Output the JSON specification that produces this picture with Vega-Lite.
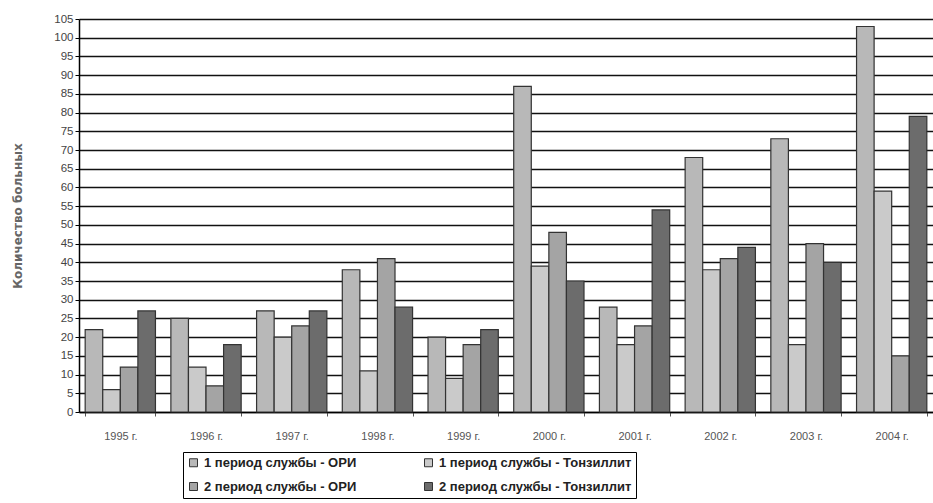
{
  "$schema": "https://vega.github.io/schema/vega-lite/v6.json",
  "width": 854,
  "height": 393,
  "autosize": {"type": "none"},
  "padding": {"left": 79, "top": 19, "right": 0, "bottom": 91},
  "background": "white",
  "config": {
    "view": {"stroke": null},
    "font": "Liberation Sans"
  },
  "data": {
    "values": [
      {"year": "1995 г.", "s": "1 период службы - ОРИ", "v": 22},
      {"year": "1995 г.", "s": "1 период службы - Тонзиллит", "v": 6},
      {"year": "1995 г.", "s": "2 период службы - ОРИ", "v": 12},
      {"year": "1995 г.", "s": "2 период службы - Тонзиллит", "v": 27},
      {"year": "1996 г.", "s": "1 период службы - ОРИ", "v": 25},
      {"year": "1996 г.", "s": "1 период службы - Тонзиллит", "v": 12},
      {"year": "1996 г.", "s": "2 период службы - ОРИ", "v": 7},
      {"year": "1996 г.", "s": "2 период службы - Тонзиллит", "v": 18},
      {"year": "1997 г.", "s": "1 период службы - ОРИ", "v": 27},
      {"year": "1997 г.", "s": "1 период службы - Тонзиллит", "v": 20},
      {"year": "1997 г.", "s": "2 период службы - ОРИ", "v": 23},
      {"year": "1997 г.", "s": "2 период службы - Тонзиллит", "v": 27},
      {"year": "1998 г.", "s": "1 период службы - ОРИ", "v": 38},
      {"year": "1998 г.", "s": "1 период службы - Тонзиллит", "v": 11},
      {"year": "1998 г.", "s": "2 период службы - ОРИ", "v": 41},
      {"year": "1998 г.", "s": "2 период службы - Тонзиллит", "v": 28},
      {"year": "1999 г.", "s": "1 период службы - ОРИ", "v": 20},
      {"year": "1999 г.", "s": "1 период службы - Тонзиллит", "v": 9},
      {"year": "1999 г.", "s": "2 период службы - ОРИ", "v": 18},
      {"year": "1999 г.", "s": "2 период службы - Тонзиллит", "v": 22},
      {"year": "2000 г.", "s": "1 период службы - ОРИ", "v": 87},
      {"year": "2000 г.", "s": "1 период службы - Тонзиллит", "v": 39},
      {"year": "2000 г.", "s": "2 период службы - ОРИ", "v": 48},
      {"year": "2000 г.", "s": "2 период службы - Тонзиллит", "v": 35},
      {"year": "2001 г.", "s": "1 период службы - ОРИ", "v": 28},
      {"year": "2001 г.", "s": "1 период службы - Тонзиллит", "v": 18},
      {"year": "2001 г.", "s": "2 период службы - ОРИ", "v": 23},
      {"year": "2001 г.", "s": "2 период службы - Тонзиллит", "v": 54},
      {"year": "2002 г.", "s": "1 период службы - ОРИ", "v": 68},
      {"year": "2002 г.", "s": "1 период службы - Тонзиллит", "v": 38},
      {"year": "2002 г.", "s": "2 период службы - ОРИ", "v": 41},
      {"year": "2002 г.", "s": "2 период службы - Тонзиллит", "v": 44},
      {"year": "2003 г.", "s": "1 период службы - ОРИ", "v": 73},
      {"year": "2003 г.", "s": "1 период службы - Тонзиллит", "v": 18},
      {"year": "2003 г.", "s": "2 период службы - ОРИ", "v": 45},
      {"year": "2003 г.", "s": "2 период службы - Тонзиллит", "v": 40},
      {"year": "2004 г.", "s": "1 период службы - ОРИ", "v": 103},
      {"year": "2004 г.", "s": "1 период службы - Тонзиллит", "v": 59},
      {"year": "2004 г.", "s": "2 период службы - ОРИ", "v": 15},
      {"year": "2004 г.", "s": "2 период службы - Тонзиллит", "v": 79}
    ]
  },
  "mark": {"type": "bar", "stroke": "#333333", "strokeWidth": 1.2},
  "encoding": {
    "x": {
      "field": "year",
      "type": "nominal",
      "sort": null,
      "scale": {"paddingInner": 0.18, "paddingOuter": 0.072},
      "axis": {
        "title": null,
        "labelAngle": 0,
        "labelFontSize": 11,
        "labelColor": "#555555",
        "labelPadding": 14,
        "domainColor": "#000000",
        "domainWidth": 1.5,
        "tickBand": "extent",
        "tickColor": "#555555",
        "tickSize": 4
      }
    },
    "xOffset": {
      "field": "s",
      "type": "nominal",
      "sort": ["1 период службы - ОРИ", "1 период службы - Тонзиллит", "2 период службы - ОРИ", "2 период службы - Тонзиллит"],
      "scale": {"paddingInner": 0, "paddingOuter": 0}
    },
    "y": {
      "field": "v",
      "type": "quantitative",
      "scale": {"domain": [0, 105], "nice": false},
      "axis": {
        "title": "Количество больных",
        "titleFont": "DejaVu Sans",
        "titleFontSize": 12,
        "titleFontWeight": "bold",
        "titleColor": "#666666",
        "titlePadding": 29,
        "values": [0, 5, 10, 15, 20, 25, 30, 35, 40, 45, 50, 55, 60, 65, 70, 75, 80, 85, 90, 95, 100, 105],
        "labelFontSize": 11.5,
        "labelColor": "#444444",
        "grid": true,
        "gridColor": "#111111",
        "gridWidth": 1.6,
        "domainColor": "#000000",
        "domainWidth": 1.5,
        "tickColor": "#000000",
        "tickSize": 4
      }
    },
    "fill": {
      "field": "s",
      "type": "nominal",
      "sort": ["1 период службы - ОРИ", "2 период службы - ОРИ", "1 период службы - Тонзиллит", "2 период службы - Тонзиллит"],
      "scale": {"range": ["#b8b8b8", "#a4a4a4", "#cacaca", "#6c6c6c"]},
      "legend": {
        "title": null,
        "orient": "none",
        "legendX": 104,
        "legendY": 433,
        "columns": 2,
        "columnPadding": 65,
        "rowPadding": 10,
        "padding": 4,
        "strokeColor": "#000000",
        "labelFont": "Liberation Sans",
        "labelFontSize": 13,
        "labelFontWeight": "bold",
        "labelColor": "#222222",
        "labelLimit": 300,
        "labelOffset": 4,
        "symbolType": "square",
        "symbolSize": 64,
        "symbolStrokeColor": "#333333",
        "symbolStrokeWidth": 1
      }
    }
  }
}
